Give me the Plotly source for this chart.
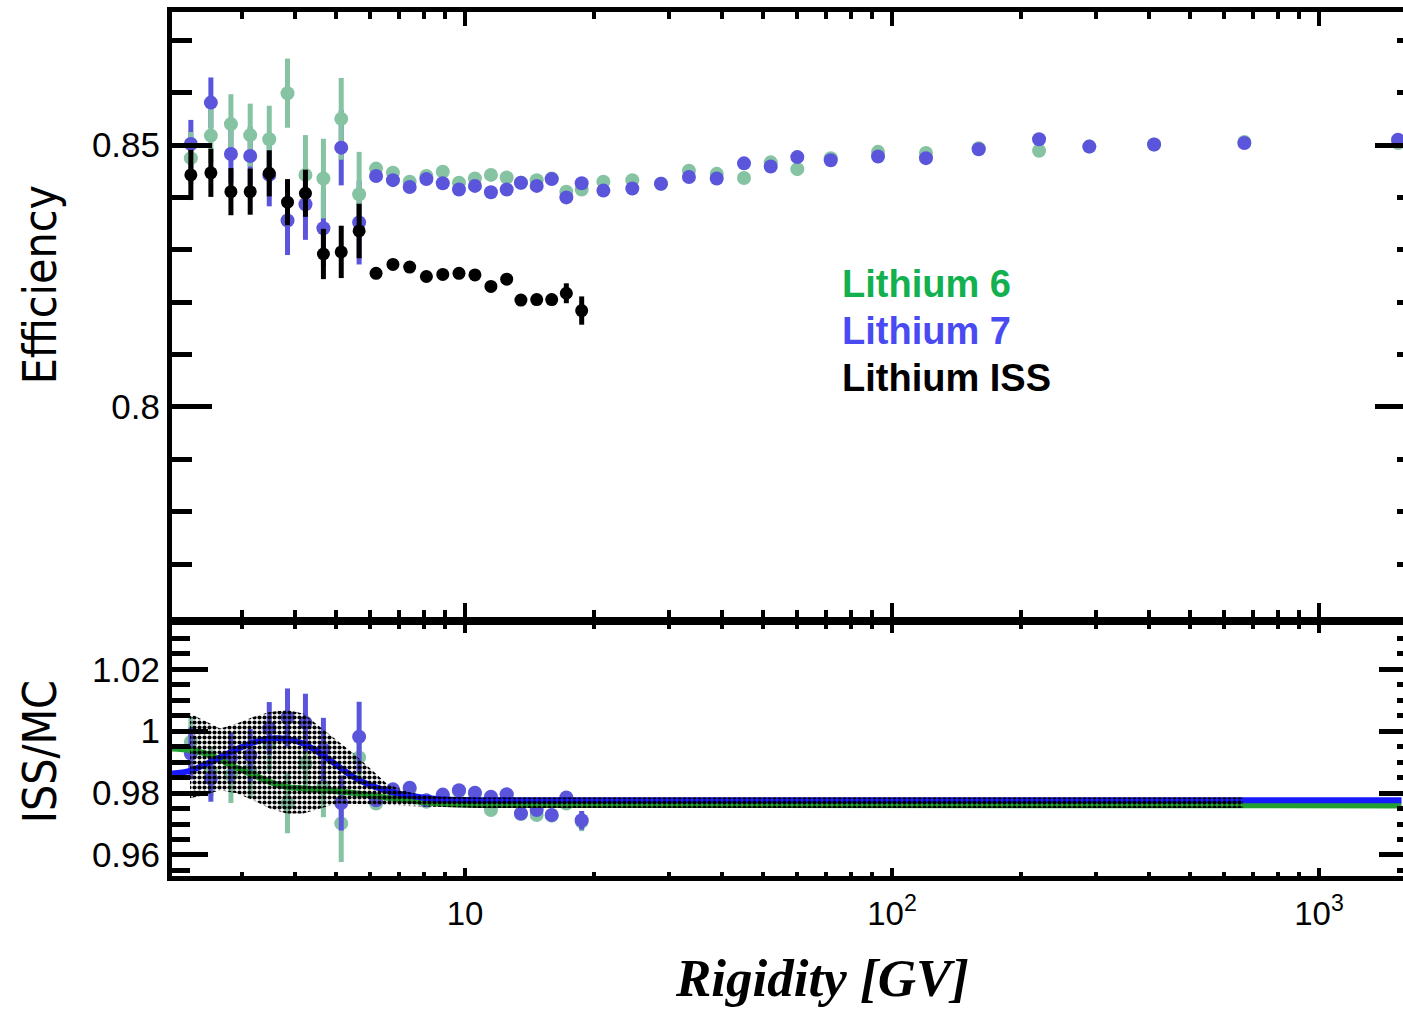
import plotly.graph_objects as go

# ---------------- data ----------------
rigidity = [2.28, 2.54, 2.83, 3.14, 3.48, 3.84, 4.23, 4.66, 5.13, 5.65, 6.19, 6.78, 7.42, 8.12,
            8.87, 9.68, 10.55, 11.5, 12.52, 13.52, 14.72, 15.96, 17.27, 18.76, 21.09, 24.65,
            28.77, 33.45, 38.86, 45.02, 51.99, 60.01, 71.86, 92.73, 120.1, 159.6, 221.0, 289.8,
            410.9, 668.6, 1531]

eff_li7 = [0.8502, 0.8581, 0.8483, 0.8479, 0.8443, 0.8356, 0.8387, 0.8341, 0.8495, 0.8352,
           0.8441, 0.8433, 0.8420, 0.8435, 0.8427, 0.8415, 0.8422, 0.8410, 0.8415, 0.8428,
           0.8422, 0.8435, 0.8400, 0.8427, 0.8413, 0.8417, 0.8426, 0.8439, 0.8436, 0.8465,
           0.8459, 0.8477, 0.8471, 0.8478, 0.8475, 0.8492, 0.8511, 0.8497, 0.8501, 0.8504, 0.8510]
err_li7 = [0.0046, 0.0048, 0.0055, 0.0056, 0.0060, 0.0066, 0.0068, 0.0073, 0.0072, 0.0080] + [0.0004] * 31

eff_li6 = [0.8475, 0.8518, 0.8540, 0.8519, 0.8511, 0.8599, 0.8443, 0.8436, 0.8550, 0.8406,
           0.8455, 0.8447, 0.8430, 0.8441, 0.8449, 0.8428, 0.8436, 0.8443, 0.8438, 0.8428,
           0.8433, 0.8436, 0.8411, 0.8415, 0.8430, 0.8433, 0.8426, 0.8451, 0.8445, 0.8437,
           0.8467, 0.8454, 0.8475, 0.8487, 0.8485, 0.8494, 0.8489, 0.8497, 0.8501, 0.8506, 0.8504]
err_li6 = [0.0050, 0.0052, 0.0057, 0.0060, 0.0064, 0.0066, 0.0076, 0.0076, 0.0078, 0.0081] + [0.0004] * 31

eff_iss = [0.8443, 0.8447, 0.8411, 0.8411, 0.8446, 0.8391, 0.8408, 0.8292, 0.8296, 0.8336,
           0.8255, 0.8272, 0.8267, 0.8249, 0.8253, 0.8255, 0.8252, 0.8230, 0.8244, 0.8204,
           0.8205, 0.8205, 0.8217, 0.8184]
err_iss = [0.0048, 0.0046, 0.0045, 0.0044, 0.0044, 0.0044, 0.0045, 0.0048, 0.0050, 0.0052,
           0.0005, 0.0005, 0.0005, 0.0005, 0.0005, 0.0005, 0.0005, 0.0005, 0.0005, 0.0005,
           0.0006, 0.0006, 0.0019, 0.0027]

ratio_li6 = [0.9965, 0.9870, 0.9858, 0.9874, 0.9960, 0.9767, 0.9895, 0.9822, 0.9702, 0.9915,
             0.9766, 0.9805, 0.9812, 0.9772, 0.9790, 0.9806, 0.9797, 0.9745, 0.9793, 0.9732,
             0.9729, 0.9727, 0.9766, 0.9707]
rerr_li6 = [0.0080, 0.0080, 0.0090, 0.0090, 0.0090, 0.0097, 0.0095, 0.0100, 0.0125, 0.0080,
            0.0006, 0.0006, 0.0006, 0.0006, 0.0006, 0.0006, 0.0006, 0.0006, 0.0006, 0.0006,
            0.0007, 0.0007, 0.0015, 0.0030]

ratio_li7 = [0.9928, 0.9847, 0.9915, 0.9922, 1.0009, 1.0044, 1.0027, 0.9941, 0.9768, 0.9982,
             0.9777, 0.9812, 0.9817, 0.9777, 0.9795, 0.9809, 0.9801, 0.9788, 0.9796, 0.9734,
             0.9745, 0.9729, 0.9786, 0.9712]
rerr_li7 = [0.0084, 0.0075, 0.0080, 0.0085, 0.0085, 0.0094, 0.0094, 0.0102, 0.0089, 0.0113,
            0.0006, 0.0006, 0.0006, 0.0006, 0.0006, 0.0006, 0.0006, 0.0006, 0.0006, 0.0006,
            0.0007, 0.0007, 0.0015, 0.0030]

fit_R = [2.06, 2.27, 2.54, 2.83, 3.14, 3.49, 3.82, 4.18, 4.58, 5.01, 5.48, 5.99, 6.56, 7.30,
         8.74, 10.8, 1560]
fit_li7 = [0.9863, 0.9872, 0.9901, 0.9933, 0.9960, 0.9976, 0.9975, 0.9960, 0.9928, 0.9890,
           0.9852, 0.9826, 0.9808, 0.9793, 0.9780, 0.9777, 0.9777]
fit_li6 = [0.9944, 0.9939, 0.9922, 0.9890, 0.9863, 0.9836, 0.9820, 0.9815, 0.9811, 0.9806,
           0.9800, 0.9793, 0.9785, 0.9777, 0.9766, 0.9762, 0.9760]

band_R = [2.27, 2.44, 2.67, 2.92, 3.19, 3.49, 3.82, 4.18, 4.58, 5.01, 5.48, 5.99, 6.56, 7.30,
          7.98, 8.74, 10.8, 664]
band_hi = [1.0057, 1.0036, 1.0009, 1.0025, 1.0046, 1.0062, 1.0068, 1.0057, 1.0014, 0.9971,
           0.9928, 0.9880, 0.9830, 0.9805, 0.9792, 0.9788, 0.9786, 0.9786]
band_lo = [0.9783, 0.9793, 0.9809, 0.9799, 0.9777, 0.9750, 0.9734, 0.9734, 0.9750, 0.9766,
           0.9766, 0.9764, 0.9762, 0.9758, 0.9756, 0.9754, 0.9752, 0.9752]

legend_labels = ["Lithium 6", "Lithium 7", "Lithium ISS"]
legend_colors = ["#12b04e", "#4a4af2", "#000000"]

x_major = [10, 100, 1000]
x_major_text = ["10", "10<sup>2</sup>", "10<sup>3</sup>"]
x_minor = [3, 4, 5, 6, 7, 8, 9, 20, 30, 40, 50, 60, 70, 80, 90,
           200, 300, 400, 500, 600, 700, 800, 900]
y_top_major = [0.8, 0.85]
y_top_major_text = ["0.8", "0.85"]
y_bot_major = [0.96, 0.98, 1.0, 1.02]
y_bot_major_text = ["0.96", "0.98", "1", "1.02"]

# ---------------- styling ----------------
C6 = "#86c3a3"
C7 = "#5b55dc"
TICKFONT = dict(family="Liberation Sans, Arial, sans-serif", size=35, color="black")
XR = [0.3138, 3.1967]
YR_TOP = [0.7599, 0.8754]
YR_BOT = [0.9532, 1.0343]

n = len(eff_iss)
fig = go.Figure()

# ---- top panel ----
fig.add_trace(go.Scatter(x=rigidity, y=eff_li7, mode="markers", xaxis="x", yaxis="y",
                         marker=dict(size=0.1, color=C7, opacity=0),
                         error_y=dict(type="data", array=err_li7, thickness=5, width=0, color=C7),
                         showlegend=False, hoverinfo="skip"))
fig.add_trace(go.Scatter(x=rigidity, y=eff_li6, mode="markers", xaxis="x", yaxis="y",
                         marker=dict(size=14, color=C6),
                         error_y=dict(type="data", array=err_li6, thickness=5, width=0, color=C6),
                         showlegend=False))
fig.add_trace(go.Scatter(x=rigidity, y=eff_li7, mode="markers", xaxis="x", yaxis="y",
                         marker=dict(size=14, color=C7), showlegend=False))
fig.add_trace(go.Scatter(x=rigidity[:n], y=eff_iss, mode="markers", xaxis="x", yaxis="y",
                         marker=dict(size=13, color="black"),
                         error_y=dict(type="data", array=err_iss, thickness=5, width=0, color="black"),
                         showlegend=False))

# ---- bottom panel ----
fig.add_trace(go.Scatter(x=rigidity[:n], y=ratio_li6, mode="markers", xaxis="x2", yaxis="y2",
                         marker=dict(size=14, color=C6),
                         error_y=dict(type="data", array=rerr_li6, thickness=5, width=0, color=C6),
                         showlegend=False))
fig.add_trace(go.Scatter(x=rigidity[:n], y=ratio_li7, mode="markers", xaxis="x2", yaxis="y2",
                         marker=dict(size=14, color=C7),
                         error_y=dict(type="data", array=rerr_li7, thickness=5, width=0, color=C7),
                         showlegend=False))
fig.add_trace(go.Scatter(x=fit_R, y=fit_li6, mode="lines", xaxis="x2", yaxis="y2",
                         line=dict(color="#22a030", width=6, shape="spline"), showlegend=False))
fig.add_trace(go.Scatter(x=fit_R, y=fit_li7, mode="lines", xaxis="x2", yaxis="y2",
                         line=dict(color="#1a1aff", width=6, shape="spline"), showlegend=False))
fig.add_trace(go.Scatter(x=band_R + band_R[::-1], y=band_hi + band_lo[::-1], mode="lines",
                         xaxis="x2", yaxis="y2", fill="toself",
                         fillcolor="rgba(0,0,0,0)", line=dict(width=0, color="rgba(0,0,0,0)"),
                         fillpattern=dict(shape=".", fgcolor="black", fgopacity=1,
                                          bgcolor="rgba(0,0,0,0)", size=5, solidity=0.55,
                                          fillmode="overlay"),
                         showlegend=False, hoverinfo="skip"))

# helper traces for right-side tick axes
fig.add_trace(go.Scatter(x=[rigidity[0]], y=[eff_li7[0]], xaxis="x", yaxis="y3", mode="markers",
                         marker=dict(opacity=0), showlegend=False, hoverinfo="skip"))
fig.add_trace(go.Scatter(x=[rigidity[0]], y=[ratio_li7[0]], xaxis="x2", yaxis="y4", mode="markers",
                         marker=dict(opacity=0), showlegend=False, hoverinfo="skip"))

TOP_DOM = [0.2998, 1.0]
BOT_DOM = [0.0, 0.2905]

common_x = dict(type="log", range=XR, showgrid=False, zeroline=False, showline=True,
                linecolor="black", linewidth=5, mirror="ticks", ticks="inside",
                tickwidth=4, tickcolor="black", tickmode="array", tickvals=x_major)

fig.update_layout(
    width=1403, height=1010,
    margin=dict(l=172, r=0, t=12, b=134),
    paper_bgcolor="white", plot_bgcolor="white",
    showlegend=False,
    xaxis=dict(**common_x, domain=[0, 1], anchor="y", ticklen=14, showticklabels=False,
               minor=dict(tickmode="array", tickvals=x_minor, ticks="inside", ticklen=7,
                          tickwidth=4, tickcolor="black", showgrid=False)),
    xaxis2=dict(**common_x, domain=[0, 1], anchor="y2", ticklen=8, ticktext=x_major_text,
                tickfont=dict(family="Liberation Sans, Arial, sans-serif", size=33, color="black"),
                ticklabelstandoff=4,
                minor=dict(tickmode="array", tickvals=x_minor, ticks="inside", ticklen=4,
                           tickwidth=4, tickcolor="black", showgrid=False)),
    yaxis=dict(domain=TOP_DOM, anchor="x", range=YR_TOP, showgrid=False, zeroline=False,
               showline=True, linecolor="black", linewidth=5, ticks="inside", ticklen=40,
               tickwidth=5, tickcolor="black", tickmode="array", tickvals=y_top_major,
               ticktext=y_top_major_text, tickfont=TICKFONT, ticklabelstandoff=0,
               minor=dict(tickmode="linear", tick0=0.8, dtick=0.01, ticks="inside", ticklen=20,
                          tickwidth=5, tickcolor="black", showgrid=False)),
    yaxis3=dict(overlaying="y", side="right", anchor="x", range=YR_TOP, showgrid=False,
                zeroline=False, showline=False, ticks="inside", ticklen=28, tickwidth=5,
                tickcolor="black", tickmode="array", tickvals=y_top_major, showticklabels=False,
                minor=dict(tickmode="linear", tick0=0.8, dtick=0.01, ticks="inside", ticklen=6,
                           tickwidth=5, tickcolor="black", showgrid=False)),
    yaxis2=dict(domain=BOT_DOM, anchor="x2", range=YR_BOT, showgrid=False, zeroline=False,
                showline=True, linecolor="black", linewidth=5, ticks="inside", ticklen=36,
                tickwidth=5, tickcolor="black", tickmode="array", tickvals=y_bot_major,
                ticktext=y_bot_major_text, tickfont=TICKFONT, ticklabelstandoff=0,
                minor=dict(tickmode="linear", tick0=0.96, dtick=0.005, ticks="inside", ticklen=18,
                           tickwidth=5, tickcolor="black", showgrid=False)),
    yaxis4=dict(overlaying="y2", side="right", anchor="x2", range=YR_BOT, showgrid=False,
                zeroline=False, showline=False, ticks="inside", ticklen=24, tickwidth=5,
                tickcolor="black", tickmode="array", tickvals=y_bot_major, showticklabels=False,
                minor=dict(tickmode="linear", tick0=0.96, dtick=0.005, ticks="inside", ticklen=6,
                           tickwidth=5, tickcolor="black", showgrid=False)),
)

# legend-like labels
leg_y = [0.6852, 0.6308, 0.5764]
for lab, col, yy in zip(legend_labels, legend_colors, leg_y):
    fig.add_annotation(x=0.5426, y=yy, xref="paper", yref="paper", text="<b>" + lab + "</b>",
                       showarrow=False, xanchor="left", yanchor="middle",
                       font=dict(family="Liberation Sans, Arial, sans-serif", size=38, color=col))

TITLEFONT = dict(family="Liberation Sans Narrow, DejaVu Sans Condensed, Liberation Sans, sans-serif",
                 size=46, color="black")
fig.add_annotation(x=-0.107, y=0.684, xref="paper", yref="paper", text="Efficiency",
                   textangle=-90, showarrow=False, xanchor="center", yanchor="middle", font=TITLEFONT)
fig.add_annotation(x=-0.107, y=0.1435, xref="paper", yref="paper", text="ISS/MC",
                   textangle=-90, showarrow=False, xanchor="center", yanchor="middle", font=TITLEFONT)
fig.add_annotation(x=0.528, y=-0.1539, xref="paper", yref="paper",
                   text="<b><i>Rigidity [GV]</i></b>", showarrow=False,
                   xanchor="center", yanchor="bottom",
                   font=dict(family="Liberation Serif, Times New Roman, serif", size=53, color="black"))

fig.write_html("out.html")
